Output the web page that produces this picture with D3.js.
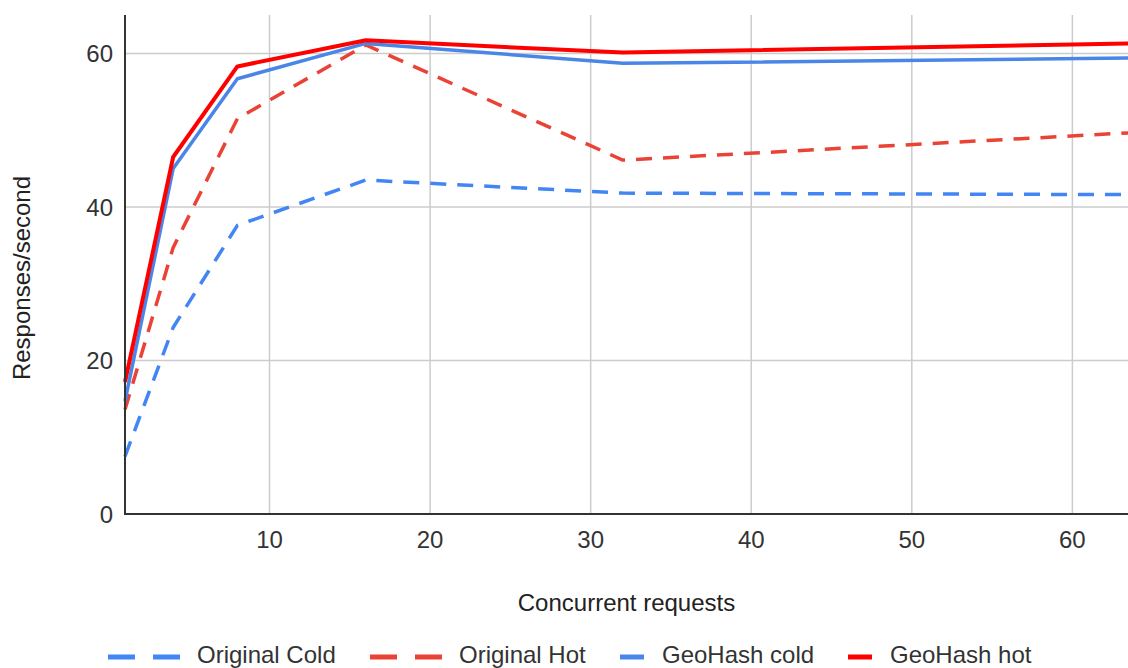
<!DOCTYPE html>
<html lang="en">
<head>
  <meta charset="UTF-8">
  <title>Concurrent requests vs responses</title>
  <style>
    body {
      margin: 0;
      background: #fff;
    }
    #chart text {
      font-family: "Liberation Sans", Arial, sans-serif;
    }
  </style>
</head>
<body>
  <div id="chart"></div>
  <script src="https://d3js.org/d3.v7.min.js"></script>
  <script>
    var concurrency = [1, 4, 8, 16, 32, 64];
    var originalCold = [7.5, 24.3, 37.6, 43.5, 41.8, 41.6];
    var originalHot = [13.6, 34.7, 51.5, 61.1, 46.1, 49.7];
    var geoHashCold = [14.7, 45, 56.7, 61.3, 58.7, 59.4];
    var geoHashHot = [17.2, 46.5, 58.3, 61.7, 60.1, 61.3];
    var xTicks = [10, 20, 30, 40, 50, 60];
    var yTicks = [0, 20, 40, 60];

    var series = [
      { name: 'Original Cold', values: originalCold, color: '#4285f4', dashed: true, width: 3.5 },
      { name: 'Original Hot', values: originalHot, color: '#ea4335', dashed: true, width: 3.5 },
      { name: 'GeoHash cold', values: geoHashCold, color: '#4a86e8', dashed: false, width: 3.5 },
      { name: 'GeoHash hot', values: geoHashHot, color: '#ff0000', dashed: false, width: 4 }
    ];

    var width = 1128, height = 668;
    var svg = d3.select('#chart').append('svg')
      .attr('width', width)
      .attr('height', height);

    var x = d3.scaleLinear().domain([1, 64]).range([125, 1136.6]);
    var y = d3.scaleLinear().domain([0, 65]).range([514, 15]);

    // grid
    svg.append('g').selectAll('line')
      .data(xTicks).enter().append('line')
      .attr('x1', function(d) { return x(d); })
      .attr('x2', function(d) { return x(d); })
      .attr('y1', y(65)).attr('y2', y(0))
      .attr('stroke', '#cccccc').attr('stroke-width', 1.5);
    svg.append('g').selectAll('line')
      .data(yTicks.filter(function(d) { return d > 0; })).enter().append('line')
      .attr('x1', x(1)).attr('x2', width)
      .attr('y1', function(d) { return y(d); })
      .attr('y2', function(d) { return y(d); })
      .attr('stroke', '#cccccc').attr('stroke-width', 1.5);

    // tick labels
    svg.append('g').selectAll('text')
      .data(xTicks).enter().append('text')
      .attr('x', function(d) { return x(d); })
      .attr('y', 548)
      .attr('text-anchor', 'middle')
      .attr('font-size', 24)
      .attr('fill', '#333')
      .text(function(d) { return d; });
    svg.append('g').selectAll('text')
      .data(yTicks).enter().append('text')
      .attr('x', 113)
      .attr('y', function(d) { return y(d); })
      .attr('dy', '0.36em')
      .attr('text-anchor', 'end')
      .attr('font-size', 24)
      .attr('fill', '#333')
      .text(function(d) { return d; });

    // lines
    var line = d3.line()
      .x(function(d, i) { return x(concurrency[i]); })
      .y(function(d) { return y(d); });

    series.forEach(function(s) {
      svg.append('path')
        .datum(s.values)
        .attr('fill', 'none')
        .attr('stroke', s.color)
        .attr('stroke-width', s.width)
        .attr('stroke-linejoin', 'round')
        .attr('stroke-dasharray', s.dashed ? '16,11' : null)
        .attr('d', line);
    });

    // axis lines
    svg.append('line')
      .attr('x1', x(1)).attr('x2', x(1))
      .attr('y1', y(65)).attr('y2', y(0) + 1)
      .attr('stroke', '#333').attr('stroke-width', 2);
    svg.append('line')
      .attr('x1', x(1) - 1).attr('x2', width)
      .attr('y1', y(0)).attr('y2', y(0))
      .attr('stroke', '#333').attr('stroke-width', 2);

    // axis titles
    svg.append('text')
      .attr('x', (x(1) + width) / 2)
      .attr('y', 611)
      .attr('text-anchor', 'middle')
      .attr('font-size', 24)
      .attr('fill', '#222')
      .text('Concurrent requests');
    svg.append('text')
      .attr('transform', 'translate(30,' + 278 + ') rotate(-90)')
      .attr('text-anchor', 'middle')
      .attr('font-size', 24)
      .attr('fill', '#222')
      .text('Responses/second');

    // legend
    var legendPos = [108, 370, 620, 848];
    var legend = svg.append('g');
    series.forEach(function(s, i) {
      var g = legend.append('g').attr('transform', 'translate(' + legendPos[i] + ',657)');
      var dashes = s.dashed ? [0, 45] : [0];
      var dashW = s.dashed ? 27 : 24;
      dashes.forEach(function(dx) {
        g.append('line')
          .attr('x1', dx).attr('x2', dx + dashW)
          .attr('y1', 0).attr('y2', 0)
          .attr('stroke', s.color)
          .attr('stroke-width', 5);
      });
      g.append('text')
        .attr('x', s.dashed ? 89 : 42)
        .attr('y', 6)
        .attr('font-size', 24)
        .attr('fill', '#333')
        .text(s.name);
    });
  </script>
</body>
</html>
